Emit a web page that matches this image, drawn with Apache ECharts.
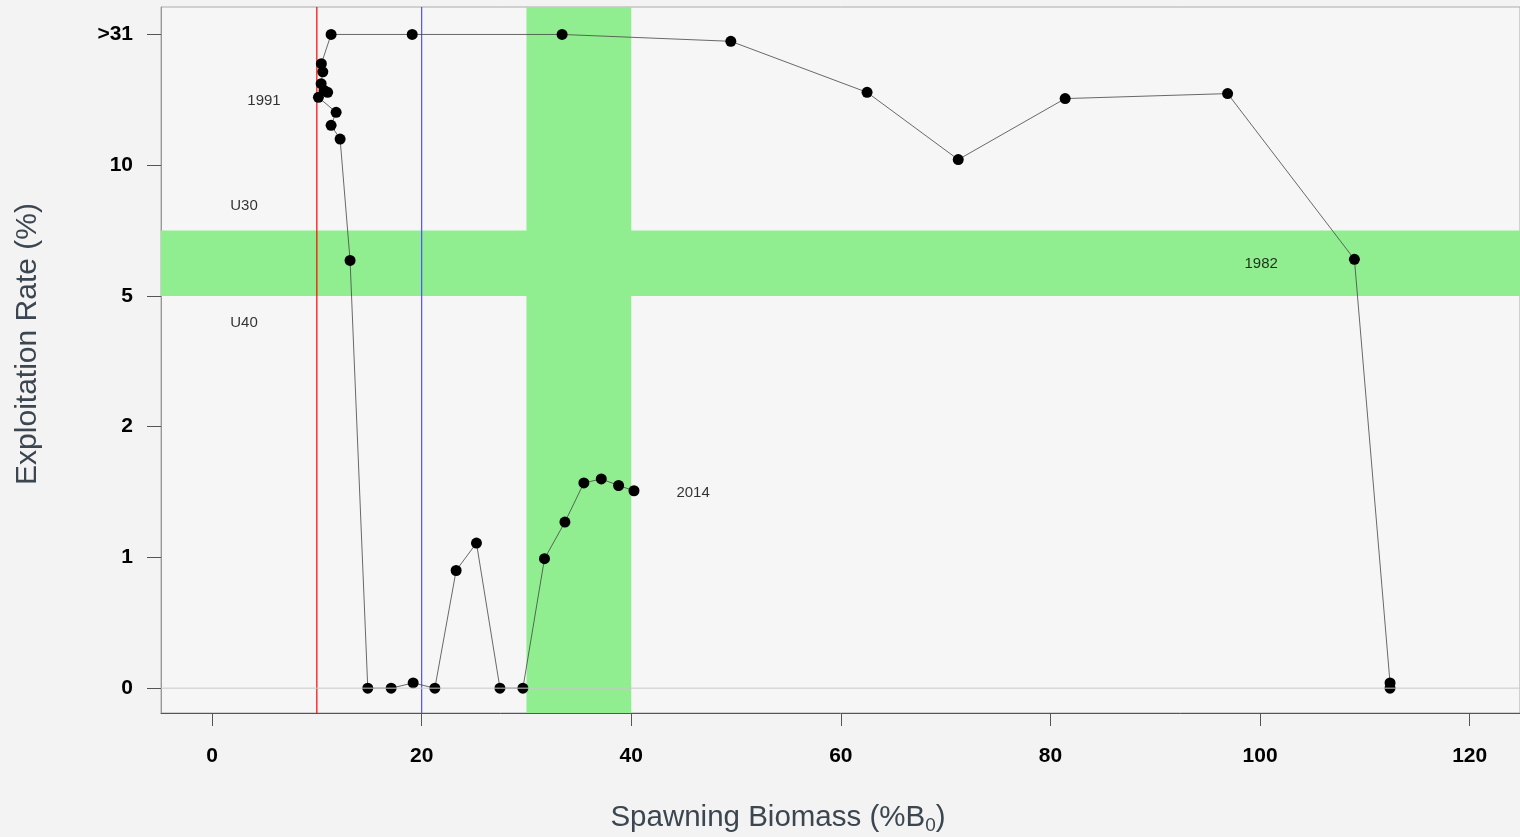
<!DOCTYPE html>
<html>
<head>
<meta charset="utf-8">
<script src="https://cdn.jsdelivr.net/npm/echarts@6/dist/echarts.min.js"></script>
<style>
html,body{margin:0;padding:0;background:#f3f3f3;}
#c{width:1520px;height:837px;}
</style>
</head>
<body>
<div id="c"></div>
<script>
// ---- data ----
const yTickValues = [0, 1, 2, 5, 10, 31];
const yTickLabels = ['0', '1', '2', '5', '10', '>31'];
const xTickValues = [0, 20, 40, 60, 80, 100, 120];
// Spawning biomass (%B0), chronological order
const biomass = [112.4, 112.4, 109.0, 96.9, 81.4, 71.2, 62.5, 49.5, 33.4, 19.1, 11.36,
  10.43, 10.57, 10.41, 10.69, 11.03, 10.15, 11.84, 11.36, 12.22, 13.17,
  14.86, 17.09, 19.19, 21.26, 23.29, 25.23, 27.47, 29.66, 31.72, 33.67, 35.48, 37.14, 38.79, 40.26];
// Exploitation rate (%), values above 31 capped at 31 (">31")
const exploitation = [0, 0.04, 6.4, 21.5, 20.7, 10.9, 21.7, 29.9, 31, 31, 31,
  26.3, 25.0, 23.1, 22.0, 21.7, 20.9, 18.5, 16.4, 14.2, 6.36,
  0, 0, 0.04, 0, 0.90, 1.11, 0, 0, 0.99, 1.27, 1.57, 1.60, 1.55, 1.51];
const biomassBand = [30, 40];
const rateBand = [5, 7.5];
const limitLines = [10, 20];
const annotationText = ['1991', 'U30', 'U40', '2014', '1982'];
const annotationX = [4.96, 3.05, 3.05, 45.9, 100.1];
const annotationY = [20.4, 8.46, 4.39, 1.49, 6.21];

const X_MIN = -4.87, X_MAX = 124.8, Y_MIN = -0.19, Y_MAX = 5.21;

// piecewise-linear position on the y scale (ticks equally spaced)
function ypos(v) {
  for (let i = 0; i < yTickValues.length - 1; i++) {
    if (v <= yTickValues[i + 1]) {
      return i + (v - yTickValues[i]) / (yTickValues[i + 1] - yTickValues[i]);
    }
  }
  return yTickValues.length - 1;
}

const points = biomass.map((b, i) => [b, ypos(exploitation[i])]);
const annotations = annotationText.map((t, i) => ({ value: [annotationX[i], ypos(annotationY[i])], name: t }));

const FONT = '"Liberation Sans", Arial, sans-serif';
function vline(x, color) {
  return {
    type: 'line', z: 2, silent: true, symbol: 'none',
    data: [[x, Y_MIN], [x, Y_MAX]],
    lineStyle: { color: color, width: 1.2, opacity: 1 },
    itemStyle: { color: color }
  };
}
const chart = echarts.init(document.getElementById('c'), null, { renderer: 'canvas' });
chart.setOption({
  backgroundColor: '#f3f3f3',
  animation: false,
  grid: {
    left: 161, right: 0, top: 7, bottom: 124,
    show: true, backgroundColor: '#f6f6f6', borderColor: '#aaaaaa', borderWidth: 1
  },
  xAxis: {
    type: 'value', min: X_MIN, max: X_MAX,
    splitLine: { show: false },
    axisLine: { show: true, onZero: false, lineStyle: { color: '#555', width: 1 } },
    axisTick: { show: true, length: 13, customValues: xTickValues, lineStyle: { color: '#555' } },
    axisLabel: {
      customValues: xTickValues, margin: 33,
      color: '#000', fontWeight: 'bold', fontSize: 21, fontFamily: FONT
    }
  },
  yAxis: {
    type: 'value', min: Y_MIN, max: Y_MAX,
    splitLine: { show: false },
    axisLine: { show: true, onZero: false, lineStyle: { color: '#999', width: 1 } },
    axisTick: { show: true, length: 14, customValues: [0, 1, 2, 3, 4, 5], lineStyle: { color: '#555' } },
    axisLabel: {
      customValues: [0, 1, 2, 3, 4, 5], margin: 28,
      color: '#000', fontWeight: 'bold', fontSize: 21, fontFamily: FONT,
      formatter: v => yTickLabels[Math.round(v)]
    }
  },
  graphic: [
    {
      type: 'text', x: 778, y: 818,
      style: {
        text: 'Spawning Biomass (%B{sub|0})',
        font: '29.5px ' + FONT, fill: '#3b4650', align: 'center', verticalAlign: 'middle',
        rich: { sub: { fontSize: 19, fontFamily: FONT, fill: '#3b4650', padding: [15, 0, 0, 0] } }
      }
    },
    {
      type: 'text', x: 28, y: 344, rotation: Math.PI / 2,
      style: {
        text: 'Exploitation Rate (%)',
        font: '30px ' + FONT, fill: '#3b4650', align: 'center', verticalAlign: 'middle'
      }
    }
  ],
  series: [
    {
      type: 'line', data: [], z: 1, silent: true,
      markArea: {
        silent: true,
        itemStyle: { color: '#90ee90', opacity: 1 },
        data: [
          [{ xAxis: biomassBand[0] }, { xAxis: biomassBand[1] }],
          [{ yAxis: ypos(rateBand[0]) }, { yAxis: ypos(rateBand[1]) }]
        ]
      }
    },
    vline(limitLines[0], '#ff0000'),
    vline(limitLines[1], '#4f4fff'),
    {
      type: 'line', z: 3, data: points,
      symbol: 'circle', symbolSize: 11,
      itemStyle: { color: '#000' },
      lineStyle: { color: '#444', width: 0.8 }
    },
    {
      type: 'line', z: 4, silent: true, symbol: 'none',
      data: [[X_MIN, 0], [X_MAX, 0]],
      lineStyle: { color: '#c8c8c8', width: 1 }
    },
    {
      type: 'scatter', z: 5, data: annotations, symbolSize: 0, silent: true,
      label: {
        show: true, position: 'inside', formatter: p => p.name,
        color: '#000', fontSize: 15, fontFamily: FONT
      }
    }
  ]
});
</script>
</body>
</html>
